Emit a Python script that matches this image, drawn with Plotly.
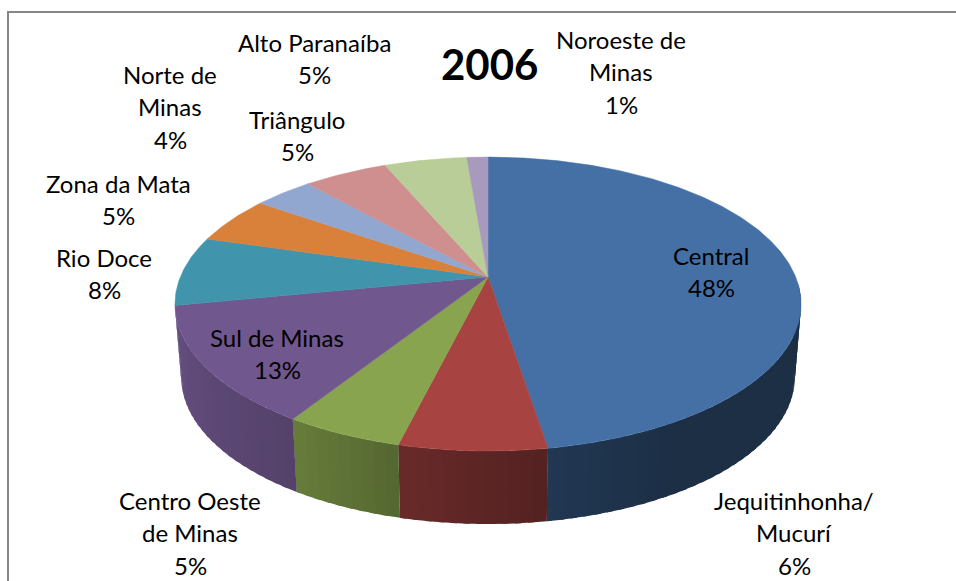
import numpy as np
import plotly.graph_objects as go

# dados (fatias em ordem horaria a partir do topo)
regioes = ["Central", "Jequitinhonha/ Mucurí", "Centro Oeste de Minas", "Sul de Minas", "Rio Doce",
           "Zona da Mata", "Norte de Minas", "Triângulo", "Alto Paranaíba", "Noroeste de Minas"]
valores = [47.45, 6.4, 5.15, 12.9, 7.65, 5.2, 3.65, 5.2, 5.1, 1.3]  # tamanho desenhado de cada fatia
percentuais = [48, 6, 5, 13, 8, 5, 4, 5, 5, 1]  # como esta escrito nos rotulos
titulo = "2006"

linhas_rotulo = [["Central"], ["Jequitinhonha/", "Mucurí"], ["Centro Oeste", "de Minas"], ["Sul de Minas"],
                 ["Rio Doce"], ["Zona da Mata"], ["Norte de", "Minas"], ["Triângulo"], ["Alto Paranaíba"],
                 ["Noroeste de", "Minas"]]

cores = ["#4470a6", "#a74442", "#88a44e", "#70578d", "#4095ad", "#d9813b", "#92a7cf", "#cf8f8e", "#b8cd97", "#a89abd"]

# posicao de cada rotulo em pixels (centro x, centro y da primeira linha)
pos_rotulo = [(711, 255), (794, 500), (190, 500), (277, 337), (104, 257),
              (118, 183), (170, 74), (297, 119), (314, 42), (621, 39)]

LARGURA, ALTURA = 956, 581
CX, CY = 488, 277
A, B, K = 307.7, 142, 0.184  # elipse com perspectiva
PROF, ESCALA = 73, 0.98  # altura da parede lateral
FONTE = "Lato"


def projeta(theta, base=False):
    t = np.radians(theta)
    w = 1 + K * np.cos(t)
    x = A * np.sin(t) / w
    y = -B * np.cos(t) / w
    if base:
        return CX + x * ESCALA, CY + y + PROF
    return CX + x, CY + y


def escurece(cor, f):
    r, g, b = int(cor[1:3], 16), int(cor[3:5], 16), int(cor[5:7], 16)
    return "rgb(%d,%d,%d)" % (r * f, g * f, b * f)


fig = go.Figure()

limites = np.concatenate([[0], np.cumsum(valores)]) / sum(valores) * 360

# paredes laterais, em tiras finas para dar o degrade
# cada tira passa um pouco da seguinte para nao aparecer emenda
for i, cor in enumerate(cores):
    ini, fim = max(limites[i], 92), min(limites[i + 1], 259)
    if ini >= fim:
        continue
    cortes = np.append(np.arange(ini, fim, 2.0), fim)
    for a0, a1 in zip(cortes[:-1], cortes[1:]):
        arco = np.linspace(a0, min(a1 + 1, fim), 4)
        x1, y1 = projeta(arco)
        x2, y2 = projeta(arco[::-1], base=True)
        f = np.interp((a0 + a1) / 2, [90, 150, 171, 194, 212, 262], [0.42, 0.42, 0.5, 0.63, 0.76, 0.93])
        c = escurece(cor, f)
        fig.add_trace(go.Scatter(x=np.concatenate([x1, x2]), y=np.concatenate([y1, y2]), mode="lines",
                                 fill="toself", fillcolor=c, line=dict(width=0),
                                 hoverinfo="skip", showlegend=False))

# face de cima
for i, cor in enumerate(cores):
    arco = np.linspace(limites[i], limites[i + 1], max(int(limites[i + 1] - limites[i]) * 2, 4))
    x, y = projeta(arco)
    fig.add_trace(go.Scatter(x=np.concatenate([[CX], x, [CX]]), y=np.concatenate([[CY], y, [CY]]), mode="lines",
                             fill="toself", fillcolor=cor, line=dict(color=cor, width=0.5),
                             name=regioes[i], showlegend=False))

# rotulos, uma anotacao por linha para acertar o espacamento
for linhas, p, (px, py) in zip(linhas_rotulo, percentuais, pos_rotulo):
    for j, texto in enumerate(linhas + ["%d%%" % p]):
        fig.add_annotation(x=px, y=py + j * 32.5, text=texto, showarrow=False,
                           font=dict(family=FONTE, size=24, color="#000000"))

fig.add_annotation(x=489, y=64, text="<b>%s</b>" % titulo, showarrow=False,
                   font=dict(family=FONTE, size=42, color="#000000"))

# moldura cinza, cortada pela direita e por baixo
fig.add_shape(type="rect", x0=8, y0=12, x1=LARGURA + 20, y1=ALTURA + 20, line=dict(color="#868686", width=2))

fig.update_layout(
    width=LARGURA,
    height=ALTURA,
    margin=dict(l=0, r=0, t=0, b=0),
    paper_bgcolor="white",
    plot_bgcolor="white",
    showlegend=False,
    xaxis=dict(range=[0, LARGURA], visible=False),
    yaxis=dict(range=[ALTURA, 0], visible=False),
)

fig.write_html("out.html", config=dict(displayModeBar=False),
               post_script="document.body.style.margin='0';document.body.style.overflow='hidden';")
